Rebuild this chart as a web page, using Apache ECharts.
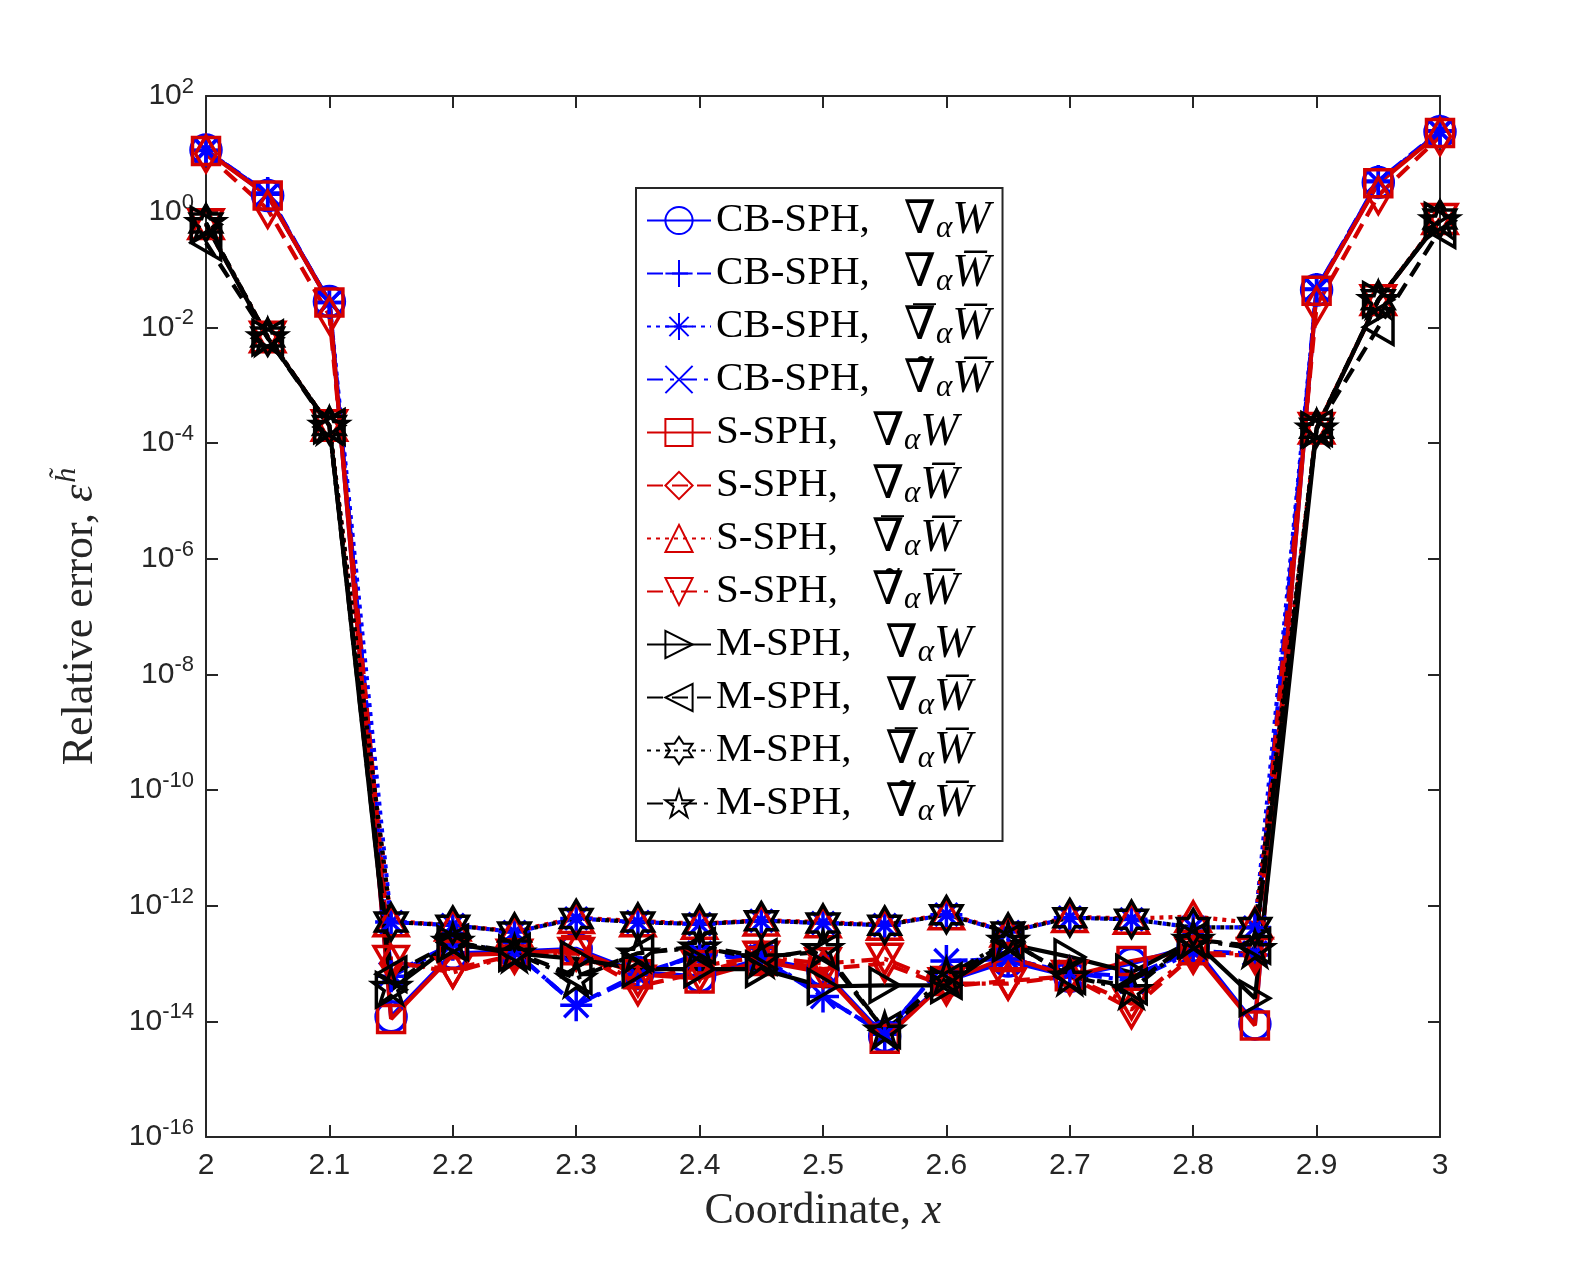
<!DOCTYPE html>
<html>
<head>
<meta charset="utf-8">
<script src="https://cdn.jsdelivr.net/npm/echarts@6/dist/echarts.min.js"></script>
<style>html,body{margin:0;padding:0;background:#fff;}#c{width:1589px;height:1277px;}</style>
</head>
<body>
<div id="c"></div>
<script>
const xs = [2, 2.05, 2.1, 2.15, 2.2, 2.25, 2.3, 2.35, 2.4, 2.45, 2.5, 2.55, 2.6, 2.65, 2.7, 2.75, 2.8, 2.85, 2.9, 2.95, 3];

const cbGradW     = [11.6, 1.9, 0.028, 1.2e-14, 1.5e-13, 1.6e-13, 1.8e-13, 7e-14, 6e-14, 1.2e-13, 7.5e-14, 5.5e-15, 5e-14, 1.1e-13, 6e-14, 1.0e-13, 2.0e-13, 9e-15, 0.044, 3.2, 24];
const cbGradWbar  = [11.4, 2.1, 0.027, 6e-14, 2.1e-13, 1.6e-13, 1.9e-14, 6.5e-14, 1.4e-13, 1.2e-13, 2.7e-14, 6e-15, 1.1e-13, 1.2e-13, 7e-14, 6e-14, 1.7e-13, 1.4e-13, 0.046, 3.4, 25];
const cbBarWbar   = [11.5, 2.0, 0.027, 5.2e-13, 4.6e-13, 3.5e-13, 6.0e-13, 5.2e-13, 4.8e-13, 5.5e-13, 5.0e-13, 4.6e-13, 7.0e-13, 3.5e-13, 6.2e-13, 5.8e-13, 4.2e-13, 4.2e-13, 0.045, 3.3, 24.5];
const cbTilWbar   = [11.5, 2.0, 0.027, 6.5e-14, 2.2e-13, 1.6e-13, 1.9e-14, 6e-14, 1.5e-13, 1.3e-13, 2.7e-14, 6e-15, 1.1e-13, 1.2e-13, 7e-14, 5e-14, 1.6e-13, 1.5e-13, 0.045, 3.3, 24];
const sGradW      = [11.2, 1.9, 0.027, 1.1e-14, 1.4e-13, 1.5e-13, 1.7e-13, 6.5e-14, 5.5e-14, 1.1e-13, 7e-14, 5e-15, 5e-14, 1.3e-13, 6e-14, 1.1e-13, 1.7e-13, 8.5e-15, 0.043, 3.1, 23];
const sGradWbar   = [10, 1.1, 0.016, 1.0e-13, 8e-14, 1.4e-13, 1.6e-13, 4e-14, 7e-14, 1.3e-13, 8e-14, 1.0e-13, 4e-14, 5e-14, 6e-14, 1.6e-14, 1.4e-13, 1.4e-13, 0.024, 1.9, 20];
const sBarWbar    = [0.62, 0.0068, 2.0e-4, 5.4e-13, 4.6e-13, 3.6e-13, 6.2e-13, 5.4e-13, 4.9e-13, 5.6e-13, 5.2e-13, 4.7e-13, 7.2e-13, 3.6e-13, 6.4e-13, 6.0e-13, 6.5e-13, 5.0e-13, 1.8e-4, 0.030, 0.75];
const sTilWbar    = [0.60, 0.0068, 2.0e-4, 1.1e-13, 7e-14, 1.4e-13, 1.5e-13, 5e-14, 9e-14, 1.3e-13, 1.0e-13, 1.2e-13, 4.5e-14, 4.5e-14, 6e-14, 2e-14, 1.5e-13, 1.5e-13, 1.8e-4, 0.029, 0.74];
const mGradW      = [0.6, 0.0066, 2.0e-4, 3.5e-14, 2.2e-13, 1.5e-13, 1.2e-13, 8e-14, 8e-14, 8e-14, 4e-14, 4.2e-14, 4.2e-14, 2.2e-13, 1.3e-13, 7e-14, 2.5e-13, 2.5e-14, 1.7e-4, 0.030, 0.7];
const mGradWbar   = [0.29, 0.0065, 1.9e-4, 6.5e-14, 2.3e-13, 1.6e-13, 6e-14, 1.5e-13, 2e-13, 1.3e-13, 1.6e-13, 7e-15, 5e-14, 2.5e-13, 6e-14, 4e-14, 2.6e-13, 2e-13, 1.8e-4, 0.01, 0.48];
const mBarWbar    = [0.64, 0.0068, 2.0e-4, 5.2e-13, 4.6e-13, 3.5e-13, 6.0e-13, 5.2e-13, 4.8e-13, 5.5e-13, 5.0e-13, 4.6e-13, 7.0e-13, 3.5e-13, 6.2e-13, 5.8e-13, 4.2e-13, 4.2e-13, 1.8e-4, 0.030, 0.75];
const mTilWbar    = [0.64, 0.0068, 2.0e-4, 4e-14, 2.4e-13, 1.5e-13, 5.5e-14, 1.5e-13, 1.9e-13, 1.2e-13, 1.8e-13, 7e-15, 6e-14, 2.5e-13, 6e-14, 3.5e-14, 2.6e-13, 1.8e-13, 1.8e-4, 0.030, 0.72];

const methods = ['CB-SPH,', 'S-SPH,', 'M-SPH,'];
const BLUE = '#0000ff', RED = '#d40000', BLACK = '#000000';

const SYM = {
  circle: 'circle',
  plus: 'path://M0,10 L20,10 M10,0 L10,20',
  star: 'path://M0,10 L20,10 M10,0 L10,20 M2.93,2.93 L17.07,17.07 M17.07,2.93 L2.93,17.07',
  cross: 'path://M0,0 L20,20 M20,0 L0,20',
  square: 'rect',
  diamond: 'path://M10,0 L17,12 L10,24 L3,12 Z',
  up: 'path://M10,0 L20,17.32 L0,17.32 Z',
  down: 'path://M0,0 L20,0 L10,17.32 Z',
  right: 'path://M0,0 L17.32,10 L0,20 Z',
  left: 'path://M17.32,0 L0,10 L17.32,20 Z',
  hex: 'path://M10,0 L12.887,5 L18.66,5 L15.774,10 L18.66,15 L12.887,15 L10,20 L7.113,15 L1.34,15 L4.226,10 L1.34,5 L7.113,5 Z',
  pent: 'path://M10,0 L12.245,6.91 L19.511,6.91 L13.633,11.18 L15.878,18.09 L10,13.82 L4.122,18.09 L6.367,11.18 L0.489,6.91 L7.755,6.91 Z'
};

const DASH = {solid: 'solid', dashed: [16, 9], dotted: [4, 5], dashdot: [16, 7, 4, 7]};
const OPS = [
  '{n|∇}{a|α}{w|W}',
  '{n|∇}{a|α}{w|W\u0305}',
  '{n|∇\u0305}{a|α}{w|W\u0305}',
  '{n|∇\u0303}{a|α}{w|W\u0305}'
];

const specs = [
  ['cb0', cbGradW, BLUE, 'circle', 30, 'solid', 0, 0],
  ['cb1', cbGradWbar, BLUE, 'plus', 32, 'dashed', 0, 1],
  ['cb2', cbBarWbar, BLUE, 'star', 32, 'dotted', 0, 2],
  ['cb3', cbTilWbar, BLUE, 'cross', 24, 'dashdot', 0, 3],
  ['s0', sGradW, RED, 'square', 27, 'solid', 1, 0],
  ['s1', sGradWbar, RED, 'diamond', 36, 'dashed', 1, 1],
  ['s2', sBarWbar, RED, 'up', 34, 'dotted', 1, 2],
  ['s3', sTilWbar, RED, 'down', 34, 'dashdot', 1, 3],
  ['m0', mGradW, BLACK, 'right', 34, 'solid', 2, 0],
  ['m1', mGradWbar, BLACK, 'left', 34, 'dashed', 2, 1],
  ['m2', mBarWbar, BLACK, 'hex', 36, 'dotted', 2, 2],
  ['m3', mTilWbar, BLACK, 'pent', 36, 'dashdot', 2, 3]
];

const labelMap = {};
const series = specs.map(s => {
  labelMap[s[0]] = '{t|' + methods[s[6]] + '}' + OPS[s[7]];
  return {
    name: s[0], type: 'line', clip: false,
    data: xs.map((x, i) => [x, s[1][i]]),
    symbol: SYM[s[3]], symbolSize: s[4], symbolKeepAspect: true, showAllSymbol: true,
    lineStyle: {color: s[2], width: 4.2, type: DASH[s[5]]},
    itemStyle: {color: 'rgba(255,255,255,0)', borderColor: s[2], borderWidth: 3.5},
    emphasis: {disabled: true},
    animation: false
  };
});

const AX = '#262626';
const FS = 'Liberation Serif, DejaVu Serif, serif';
const SS = 'Liberation Sans, Arial, sans-serif';

const baseX = {
  type: 'value', min: 2, max: 3, interval: 0.1,
  axisLine: {show: true, onZero: false, lineStyle: {color: AX, width: 2}},
  axisTick: {show: true, inside: true, length: 12, lineStyle: {color: AX, width: 2}},
  splitLine: {show: false}
};
const baseY = {
  type: 'log', logBase: 10, min: 1e-16, max: 1e2, interval: 2,
  axisLine: {show: true, onZero: false, lineStyle: {color: AX, width: 2}},
  axisTick: {show: true, inside: true, length: 12, lineStyle: {color: AX, width: 2}},
  minorTick: {show: false},
  splitLine: {show: false}
};

const option = {
  animation: false,
  backgroundColor: '#ffffff',
  grid: {left: 206, top: 96, right: 149, bottom: 140, containLabel: false},
  xAxis: [
    Object.assign({}, baseX, {
      position: 'bottom',
      axisLabel: {fontSize: 30, color: AX, fontFamily: SS, margin: 14,
        formatter: v => String(parseFloat(v.toFixed(2)))},
      name: 'Coordinate, {i|x}', nameLocation: 'middle', nameGap: 52,
      nameTextStyle: {fontFamily: FS, fontSize: 44, color: AX,
        rich: {i: {fontFamily: FS, fontSize: 44, fontStyle: 'italic', color: AX}}}
    }),
    Object.assign({}, baseX, {position: 'top', axisLabel: {show: false}})
  ],
  yAxis: [
    Object.assign({}, baseY, {
      position: 'left',
      axisLabel: {fontSize: 30, color: AX, fontFamily: SS, margin: 12,
        formatter: v => '10{s|' + Math.round(Math.log10(v)) + '}',
        rich: {s: {fontSize: 22, fontFamily: SS, color: AX, verticalAlign: 'top', padding: [0, 0, 18, 0]}}},
      name: 'Relative error, {e|ε}{h|h\u0303}', nameLocation: 'middle', nameGap: 98,
      nameTextStyle: {fontFamily: FS, fontSize: 44, color: AX,
        rich: {e: {fontFamily: FS, fontSize: 44, fontStyle: 'italic', color: AX},
               h: {fontFamily: FS, fontSize: 30, fontStyle: 'italic', color: AX, padding: [0, 0, 26, 2]}}}
    }),
    Object.assign({}, baseY, {position: 'right', axisLabel: {show: false}})
  ],
  legend: {
    orient: 'vertical', left: 636, top: 188,
    itemWidth: 64, itemHeight: 34, itemGap: 6,
    padding: [9, 12, 14, 10],
    backgroundColor: '#ffffff', borderColor: AX, borderWidth: 2, borderRadius: 0,
    data: specs.map(s => s[0]),
    formatter: name => labelMap[name],
    textStyle: {
      fontFamily: FS, fontSize: 41, color: '#000',
      rich: {
        t: {fontFamily: FS, fontSize: 41, color: '#000', lineHeight: 34},
        n: {fontFamily: FS, fontSize: 46, color: '#000', lineHeight: 34, padding: [0, 0, 0, 34]},
        a: {fontFamily: FS, fontSize: 31, fontStyle: 'italic', color: '#000', lineHeight: 34, padding: [16, 0, 0, 0]},
        w: {fontFamily: FS, fontSize: 46, fontStyle: 'italic', color: '#000', lineHeight: 34}
      }
    }
  },
  series: series
};

const chart = echarts.init(document.getElementById('c'), null, {renderer: 'canvas'});
chart.setOption(option);
</script>
</body>
</html>
